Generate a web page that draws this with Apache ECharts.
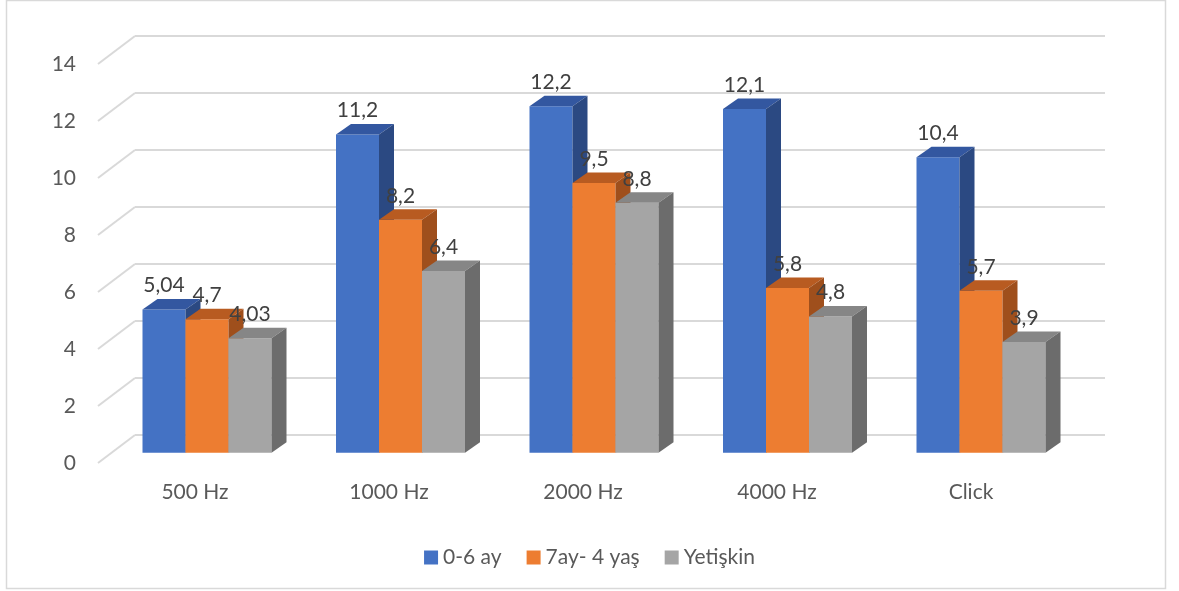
<!DOCTYPE html>
<html>
<head>
<meta charset="utf-8">
<script src="https://cdn.jsdelivr.net/npm/echarts@6/dist/echarts.min.js"></script>
<style>
  html, body { margin: 0; padding: 0; background: #ffffff; }
  #chart { width: 1179px; height: 591px; }
</style>
</head>
<body>
<div id="chart"></div>
<script>
// Hearing threshold groups per stimulus
const categories = ['500 Hz', '1000 Hz', '2000 Hz', '4000 Hz', 'Click'];
const seriesNames = ['0-6 ay', '7ay- 4 yaş', 'Yetişkin'];
const infantValues = [5.04, 11.2, 12.2, 12.1, 10.4];
const childValues = [4.7, 8.2, 9.5, 5.8, 5.7];
const adultValues = [4.03, 6.4, 8.8, 4.8, 3.9];
const yTicks = [0, 2, 4, 6, 8, 10, 12, 14];

const seriesValues = [infantValues, childValues, adultValues];

// Face shades for the pseudo-3D columns
const palette = [
  { front: '#4472C4', top: '#3357A0', side: '#2B4982' },
  { front: '#ED7D31', top: '#B85B21', side: '#9F4F1C' },
  { front: '#A5A5A5', top: '#868686', side: '#6C6C6C' }
];

const FONT = 'Lato, "Noto Sans", sans-serif';
const TEXT_COLOR = '#595959';
const GRID_COLOR = '#D9D9D9';

// Column depth offset and wall depth offset (screen px)
const DX = 15, DY = 10.5;
const WALL_DX = 37, WALL_DY = 28;
const GROUP_FILL = 129 / 193.5;

function fmt(v) { return String(v).replace('.', ','); }

function columnRenderer(k) {
  return function (params, api) {
    const cat = api.value(0);
    const val = api.value(1);
    const base = api.coord([cat, 0]);
    const head = api.coord([cat, val]);
    const band = api.size([1, 0])[0];
    const bw = band * GROUP_FILL / 3;
    const x0 = base[0] - band * GROUP_FILL / 2 + k * bw;
    const x1 = x0 + bw;
    const yb = base[1];
    const yt = head[1];
    const c = palette[k];
    return {
      type: 'group',
      children: [
        { type: 'rect', shape: { x: x0, y: yt, width: bw, height: yb - yt }, style: { fill: c.front } },
        { type: 'polygon', shape: { points: [[x0, yt], [x1, yt], [x1 + DX, yt - DY], [x0 + DX, yt - DY]] }, style: { fill: c.top } },
        { type: 'polygon', shape: { points: [[x1, yt], [x1 + DX, yt - DY], [x1 + DX, yb - DY], [x1, yb]] }, style: { fill: c.side } },
        {
          type: 'text', z2: 10,
          style: {
            text: fmt(val), x: (x0 + x1) / 2, y: yt - 24,
            align: 'center', verticalAlign: 'middle',
            fill: '#404040', font: '21px ' + FONT
          }
        }
      ]
    };
  };
}

function wallEdgeRenderer(params, api) {
  const cs = params.coordSys;
  const p = api.coord([0, api.value(1)]);
  return {
    type: 'line',
    shape: { x1: cs.x, y1: p[1], x2: cs.x + WALL_DX, y2: p[1] - WALL_DY },
    style: { stroke: GRID_COLOR, lineWidth: 2 }
  };
}

const chart = echarts.init(document.getElementById('chart'), null, { renderer: 'canvas' });

const valueAxisBase = { type: 'value', min: 0, max: 14, interval: 2 };

const option = {
  animation: false,
  backgroundColor: '#ffffff',
  textStyle: { fontFamily: FONT },
  graphic: [{
    type: 'rect', silent: true,
    shape: { x: 6.5, y: 0.5, width: 1159, height: 588 },
    style: { fill: 'none', stroke: GRID_COLOR, lineWidth: 1.5 }
  }],
  legend: {
    data: seriesNames.map(n => ({ name: n, icon: 'rect' })),
    left: 'center', top: 542,
    itemWidth: 14, itemHeight: 14, itemGap: 25,
    textStyle: { color: TEXT_COLOR, fontSize: 21, fontFamily: FONT }
  },
  grid: [
    // back wall
    { left: 135, right: 74, top: 36, height: 399 },
    // front plane (axis labels)
    { left: 98, right: 111, top: 64, height: 399 },
    // columns
    { left: 110.25, right: 101.25, top: 55.1, height: 397.6 }
  ],
  xAxis: [
    { gridIndex: 0, type: 'category', data: categories, show: false },
    {
      gridIndex: 1, type: 'category', data: categories,
      axisLine: { show: false }, axisTick: { show: false },
      axisLabel: { color: TEXT_COLOR, fontSize: 21, fontFamily: FONT, margin: 19 }
    },
    { gridIndex: 2, type: 'category', data: categories, show: false }
  ],
  yAxis: [
    Object.assign({}, valueAxisBase, {
      gridIndex: 0,
      axisLabel: { show: false }, axisLine: { show: false }, axisTick: { show: false },
      splitLine: { show: true, lineStyle: { color: GRID_COLOR, width: 2 } }
    }),
    Object.assign({}, valueAxisBase, {
      gridIndex: 1,
      axisLine: { show: false }, axisTick: { show: false }, splitLine: { show: false },
      axisLabel: { color: TEXT_COLOR, fontSize: 21, fontFamily: FONT, margin: 22 }
    }),
    Object.assign({}, valueAxisBase, { gridIndex: 2, show: false, splitLine: { show: false } })
  ],
  series: [
    {
      type: 'custom', name: 'wall-edges', xAxisIndex: 1, yAxisIndex: 1, silent: true,
      renderItem: wallEdgeRenderer,
      data: yTicks.map(v => [0, v])
    }
  ].concat(seriesValues.map((vals, k) => ({
    type: 'custom',
    name: seriesNames[k],
    xAxisIndex: 2, yAxisIndex: 2,
    itemStyle: { color: palette[k].front },
    renderItem: columnRenderer(k),
    data: vals.map((v, i) => [i, v])
  })))
};

chart.setOption(option);
</script>
</body>
</html>
